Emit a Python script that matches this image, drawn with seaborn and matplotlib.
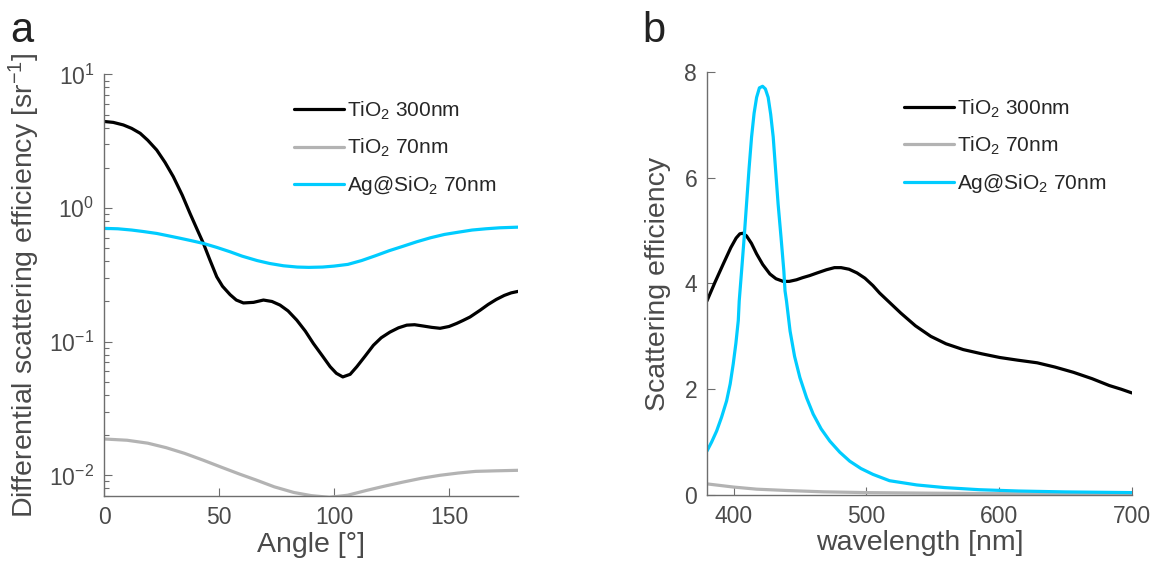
import numpy as np
import pandas as pd
import seaborn as sns
import matplotlib.pyplot as plt

# panel a: differential scattering efficiency vs angle (log scale)
angle_300 = [0, 4, 8.4, 12, 15.7, 19, 22.9, 26.5, 30.1, 34, 37.4, 40.5, 43.2, 46, 49, 51.5, 54.8, 57.5, 60.6, 65,
             69.3, 73, 76.5, 80, 83.8, 87.5, 91, 95, 98.3, 101, 103.8, 107, 109.9, 113.5, 117.1, 120.5, 124.3, 128,
             131.6, 135, 138.8, 142.5, 146.1, 150, 153.3, 156, 159.1, 163.5, 167, 170.5, 174, 177, 180]
tio2_300 = [4.45, 4.38, 4.19, 3.95, 3.63, 3.22, 2.72, 2.2, 1.72, 1.25, 0.91, 0.69, 0.544, 0.41, 0.306, 0.26, 0.225,
            0.205, 0.195, 0.197, 0.205, 0.2, 0.188, 0.17, 0.145, 0.12, 0.097, 0.078, 0.065, 0.058, 0.0545, 0.057,
            0.065, 0.078, 0.094, 0.107, 0.118, 0.127, 0.133, 0.134, 0.131, 0.128, 0.126, 0.13, 0.137, 0.144, 0.153,
            0.172, 0.19, 0.207, 0.222, 0.232, 0.238]

angle_70 = [0, 10, 19, 27, 35, 43, 51, 59, 66.5, 74, 82.5, 90, 98, 106, 114, 122, 130, 138, 146, 154, 161.5, 170, 180]
tio2_70 = [0.0187, 0.0183, 0.0174, 0.0161, 0.0146, 0.013, 0.0115, 0.0102, 0.00917, 0.0082, 0.00744, 0.00705,
           0.00684, 0.0071, 0.0077, 0.0083, 0.0089, 0.0095, 0.01, 0.0104, 0.0107, 0.0108, 0.0109]

angle_ag = [0, 6, 12, 17, 22.9, 28, 33, 38, 43.2, 49, 54.8, 60, 66.5, 72, 78, 84, 89, 95, 100, 106, 112, 118, 124,
            130, 136, 142, 148, 154, 160, 166, 172, 180]
ag_sio2 = [0.705, 0.70, 0.685, 0.668, 0.646, 0.62, 0.595, 0.57, 0.544, 0.508, 0.471, 0.437, 0.405, 0.385, 0.37,
           0.362, 0.36, 0.362, 0.368, 0.379, 0.405, 0.44, 0.48, 0.518, 0.56, 0.6, 0.635, 0.66, 0.685, 0.70, 0.712,
           0.72]

# panel b: scattering efficiency vs wavelength
wl_300 = [380, 386, 392.3, 398, 402, 404.8, 407, 409.8, 413.5, 417.4, 422, 427.4, 432, 437.4, 442, 447.4, 452,
          457.4, 463, 470, 476, 481, 487, 493, 499, 505, 510, 518, 526, 537, 548.6, 560, 573, 587, 600.6, 614,
          628.7, 642, 656, 670, 683, 692, 700]
tio2_300_b = [3.67, 4.02, 4.37, 4.68, 4.86, 4.94, 4.95, 4.9, 4.76, 4.56, 4.36, 4.18, 4.09, 4.04, 4.04, 4.07, 4.11,
              4.15, 4.2, 4.26, 4.3, 4.3, 4.27, 4.2, 4.1, 3.96, 3.82, 3.63, 3.44, 3.2, 3.0, 2.86, 2.75, 2.67, 2.6,
              2.55, 2.5, 2.42, 2.32, 2.2, 2.07, 2.0, 1.93]

wl_70 = [380, 400, 417.5, 440, 467.5, 500, 550, 600, 650, 700]
tio2_70_b = [0.21, 0.15, 0.11, 0.085, 0.06, 0.045, 0.034, 0.026, 0.02, 0.015]

wl_ag = [380, 383.5, 387.3, 391, 394.8, 397.5, 399.8, 401.8, 403.6, 404.3, 406.1, 408, 409.8, 411.7, 413.6, 415.5,
         417.4, 419.5, 421.9, 424, 426.1, 428, 429.9, 431.7, 433.6, 435.8, 437.9, 438.8, 439.9, 442.6, 446, 450,
         455, 460, 466, 472.5, 480, 487.5, 496, 505, 517.5, 538, 559, 585, 614.7, 650, 700]
ag_sio2_b = [0.83, 1.0, 1.21, 1.47, 1.78, 2.1, 2.48, 2.87, 3.3, 3.67, 4.24, 4.86, 5.5, 6.17, 6.77, 7.22, 7.52, 7.7,
             7.73, 7.68, 7.52, 7.2, 6.77, 6.15, 5.5, 4.87, 4.24, 3.86, 3.67, 3.1, 2.62, 2.22, 1.84, 1.53, 1.25, 1.02,
             0.81, 0.64, 0.5, 0.39, 0.27, 0.19, 0.14, 0.1, 0.075, 0.058, 0.045]

labels = ['TiO$_2$ 300nm', 'TiO$_2$ 70nm', 'Ag@SiO$_2$ 70nm']
colors = ['#000000', '#b3b3b3', '#00ccff']

sns.set_style("white")
plt.rcParams['font.family'] = ['Liberation Sans', 'DejaVu Sans']
plt.rcParams['mathtext.fontset'] = 'custom'
plt.rcParams['mathtext.rm'] = 'Liberation Sans'
plt.rcParams['mathtext.it'] = 'Liberation Sans:italic'
plt.rcParams['mathtext.default'] = 'regular'

text_c = '#4a4a4a'
axis_c = '#6e6e6e'

dfa = pd.concat([
    pd.DataFrame({'x': angle_300, 'y': tio2_300, 'series': labels[0]}),
    pd.DataFrame({'x': angle_70, 'y': tio2_70, 'series': labels[1]}),
    pd.DataFrame({'x': angle_ag, 'y': ag_sio2, 'series': labels[2]}),
])
dfb = pd.concat([
    pd.DataFrame({'x': wl_300, 'y': tio2_300_b, 'series': labels[0]}),
    pd.DataFrame({'x': wl_70, 'y': tio2_70_b, 'series': labels[1]}),
    pd.DataFrame({'x': wl_ag, 'y': ag_sio2_b, 'series': labels[2]}),
])
palette = dict(zip(labels, colors))

fig = plt.figure(figsize=(11.51, 5.63), dpi=100)
ax1 = fig.add_axes([0.0904, 0.119, 0.3597, 0.7487])
ax2 = fig.add_axes([0.6142, 0.1208, 0.3692, 0.7513])


def style_axis(ax):
    for s in ['top', 'right']:
        ax.spines[s].set_visible(False)
    for s in ['left', 'bottom']:
        ax.spines[s].set_color(axis_c)
        ax.spines[s].set_linewidth(1.0)
    ax.tick_params(which='both', direction='in', bottom=True, left=True, colors=axis_c,
                   labelcolor=text_c, labelsize=16.5, width=0.8)
    ax.tick_params(which='major', length=6, pad=7)
    ax.tick_params(which='minor', length=3.5)


anchors = {ax1: (0.459, 0.94), ax2: (0.4635, 0.94)}
for ax, df in [(ax1, dfa), (ax2, dfb)]:
    sns.lineplot(data=df, x='x', y='y', hue='series', palette=palette, linewidth=2.3,
                 sort=False, estimator=None, ax=ax)
    style_axis(ax)
    leg = ax.legend(frameon=False, fontsize=15, handlelength=2.4, handletextpad=0.15, labelspacing=0.72,
                    borderpad=0, borderaxespad=0, loc='upper left', bbox_to_anchor=anchors[ax])
    for h in leg.get_lines():
        h.set_linewidth(2.3)

ax1.set_yscale('log')
ax1.set_xlim(0, 180)
ax1.set_ylim(0.007, 10)
ax1.set_xticks([0, 50, 100, 150])
ax1.set_xlabel('Angle [°]', fontsize=20.5, color=text_c, labelpad=2)
ax1.set_ylabel('Differential scattering efficiency [sr$^{-1}$]', fontsize=20.5, color=text_c, labelpad=5)
ax1.tick_params(axis='x', which='minor', bottom=False)

ax2.set_xlim(380, 700)
ax2.set_ylim(0, 8)
ax2.set_xticks([400, 500, 600, 700])
ax2.set_yticks([0, 2, 4, 6, 8])
ax2.set_xlabel('wavelength [nm]', fontsize=20.5, color=text_c, labelpad=2)
ax2.set_ylabel('Scattering efficiency', fontsize=20.5, color=text_c, labelpad=10)

fig.text(0.009, 0.926, 'a', fontsize=30, color='#222222')
fig.text(0.558, 0.926, 'b', fontsize=30, color='#222222')

fig.savefig('out.png', dpi=100)
